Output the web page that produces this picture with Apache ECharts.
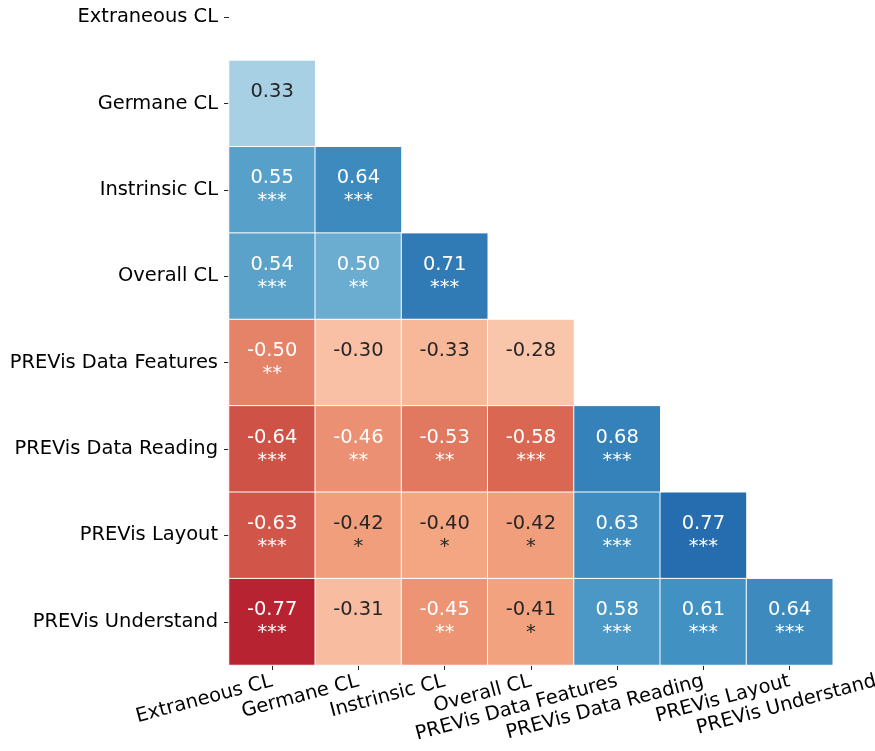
<!DOCTYPE html>
<html>
<head>
<meta charset="utf-8">
<script src="https://cdn.jsdelivr.net/npm/echarts@6/dist/echarts.min.js"></script>
<style>
html,body{margin:0;padding:0;background:#fff;overflow:hidden;width:875px;height:751px;position:relative;}
#chart{position:absolute;left:0;top:-26px;width:919px;height:777px;}
</style>
</head>
<body>
<div id="chart"></div>
<script>
const labels = ['Extraneous CL','Germane CL','Instrinsic CL','Overall CL','PREVis Data Features','PREVis Data Reading','PREVis Layout','PREVis Understand'];

// lower-triangle correlation values, row by row (row i has i entries)
const corrRows = [
  [],
  [0.33],
  [0.55, 0.64],
  [0.54, 0.50, 0.71],
  [-0.50, -0.30, -0.33, -0.28],
  [-0.64, -0.46, -0.53, -0.58, 0.68],
  [-0.63, -0.42, -0.40, -0.42, 0.63, 0.77],
  [-0.77, -0.31, -0.45, -0.41, 0.58, 0.61, 0.64]
];

// significance stars, same layout
const starRows = [
  [],
  [''],
  ['***','***'],
  ['***','**','***'],
  ['**','','',''],
  ['***','**','**','***','***'],
  ['***','*','*','*','***','***'],
  ['***','','**','*','***','***','***']
];

const rdbu = ['#67001f','#b2182b','#d6604d','#f4a582','#fddbc7','#f7f7f7','#d1e5f0','#92c5de','#4393c3','#2166ac','#053061'];

function hexToRgb(h){return [parseInt(h.slice(1,3),16),parseInt(h.slice(3,5),16),parseInt(h.slice(5,7),16)];}
function cmap(v){
  let t = (v + 1) / 2; t = Math.max(0, Math.min(1, t));
  const p = t * (rdbu.length - 1);
  const i = Math.min(Math.floor(p), rdbu.length - 2);
  const f = p - i;
  const a = hexToRgb(rdbu[i]), b = hexToRgb(rdbu[i+1]);
  return a.map((c,k)=>c + (b[k]-c)*f);
}
function luminance(rgb){
  const l = rgb.map(c=>{c/=255;return c<=0.03928?c/12.92:Math.pow((c+0.055)/1.055,2.4);});
  return 0.2126*l[0]+0.7152*l[1]+0.0722*l[2];
}

const data = [];
corrRows.forEach((row,i)=>{
  row.forEach((v,j)=>{
    const dark = luminance(cmap(v)) > 0.408;
    data.push({
      value:[j,i,v],
      stars: starRows[i][j],
      label:{color: dark ? '#262626' : '#ffffff'}
    });
  });
});

const chart = echarts.init(document.getElementById('chart'), null, {renderer:'canvas'});
const font = 'DejaVu Sans';
const fs = 19.44;
chart.setOption({
  animation:false,
  backgroundColor:'#ffffff',
  grid:{left:229, right:0, top:0, bottom:86},
  xAxis:{
    type:'category',
    data:labels,
    axisLine:{show:false},
    axisTick:{show:true, alignWithLabel:true, length:5, lineStyle:{color:'#262626', width:1}},
    axisLabel:{interval:0, rotate:15, fontSize:fs, fontFamily:font, color:'#000', margin:16},
    splitLine:{show:false}
  },
  yAxis:{
    type:'category',
    data:labels,
    inverse:true,
    axisLine:{show:false},
    axisTick:{show:true, alignWithLabel:true, length:5, lineStyle:{color:'#262626', width:1}},
    axisLabel:{interval:0, fontSize:fs, fontFamily:font, color:'#000', margin:11},
    splitLine:{show:false}
  },
  visualMap:{
    show:false,
    type:'continuous',
    min:-1, max:1,
    dimension:2,
    inRange:{color:rdbu}
  },
  series:[{
    type:'heatmap',
    data:data,
    itemStyle:{borderColor:'#ffffff', borderWidth:1},
    label:{
      show:true,
      fontSize:fs,
      fontFamily:font,
      lineHeight:23,
      align:'center',
      formatter:function(p){
        const s = p.data.stars;
        return p.data.value[2].toFixed(2) + '\n' + (s ? s : ' ');
      }
    },
    emphasis:{disabled:true}
  }]
});
</script>
</body>
</html>
